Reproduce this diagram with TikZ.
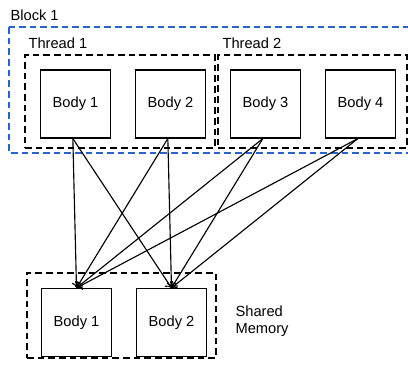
\documentclass[tikz,border=0pt]{standalone}
\usepackage{fontspec}
\setmainfont{Liberation Sans}
\usetikzlibrary{arrows.meta}
\definecolor{blockblue}{RGB}{40,100,200}
\begin{document}
\begin{tikzpicture}[
    x=0.75pt, y=-0.75pt,
    line width=0.85pt,
    bodySize/.style={minimum width=52pt, minimum height=51pt},
    groupDash/.style={line width=0.85pt, dash pattern=on 5pt off 3pt},
    every node/.style={
        font=\fontsize{11}{13}\selectfont,
        text centered,
        inner sep=0pt,
        }
        ]
    \useasboundingbox (0, 0) rectangle (408, 368);

    % block around both threads
    \draw[blockblue, groupDash] (9, 27) rectangle (414, 153);
    \node[anchor=west] (blockLabel) at (10, 15) {Block 1};

    % threads
    \node[draw, groupDash, minimum width=142.5pt, minimum height=69.75pt] (thread1) at (120, 101.5) {};
    \node[draw, groupDash, minimum width=141.75pt, minimum height=69.75pt] (thread2) at (312.5, 101.5) {};
    \node[anchor=west] (thread1Label) at (28, 43) {Thread 1};
    \node[anchor=west] (thread2Label) at (222, 43) {Thread 2};

    \node[bodySize, draw] (body1) at (75.5, 104) {Body 1};
    \node[bodySize, draw] (body2) at (170.5, 104) {Body 2};
    \node[bodySize, draw] (body3) at (265.5, 104) {Body 3};
    \node[bodySize, draw] (body4) at (360.5, 104) {Body 4};

    % shared memory
    \node[draw, groupDash, minimum width=141.75pt, minimum height=63.75pt] (shared) at (121.5, 315.5) {};
    \node[bodySize, draw] (mem1) at (76.5, 322.5) {Body 1};
    \node[bodySize, draw] (mem2) at (171.5, 322.5) {Body 2};
    \node[anchor=west, align=left] (sharedLabel) at (235, 321) {Shared\\Memory};

    \foreach \b in {body1, body2, body3, body4} {
        \draw[->, >={To[length=4pt, width=7pt]}] ([xshift=-2pt]\b.south) -- (mem1.north);
        \draw[->, >={To[length=4pt, width=7pt]}] ([xshift=-2pt]\b.south) -- (mem2.north);
    }
\end{tikzpicture}
\end{document}
